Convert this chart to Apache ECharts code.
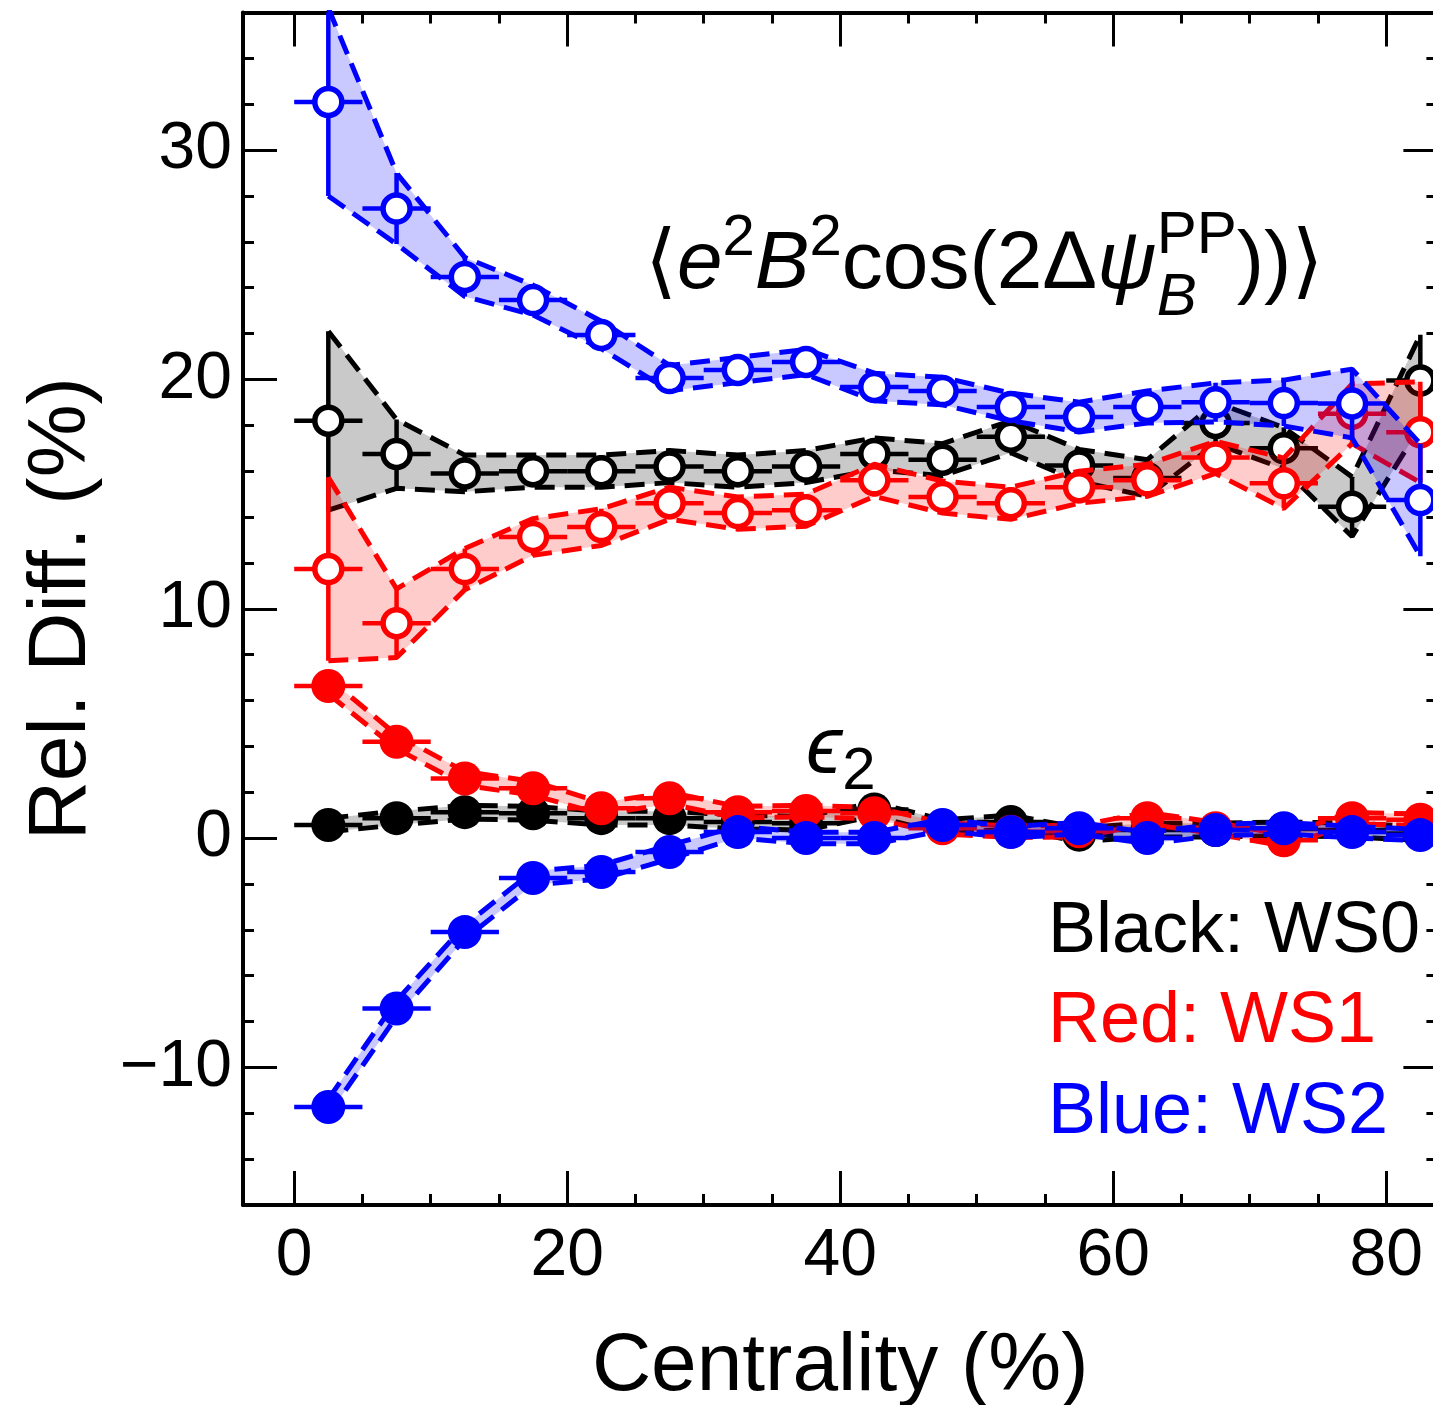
<!DOCTYPE html>
<html>
<head>
<meta charset="utf-8">
<script src="https://cdn.jsdelivr.net/npm/echarts@6/dist/echarts.min.js"></script>
<style>
  html, body { margin: 0; padding: 0; background: #fff; }
  #chart { width: 1433px; height: 1405px; }
</style>
</head>
<body>
<div id="chart"></div>
<script>
// Centrality bin centres (%) and half bin width
const centrality = [2.5, 7.5, 12.5, 17.5, 22.5, 27.5, 32.5, 37.5, 42.5, 47.5, 52.5, 57.5, 62.5, 67.5, 72.5, 77.5, 82.5];
const binHalfWidth = 2.5;

// Relative difference of <e^2 B^2 cos(2 dPsi_B^PP)> for the three Woods-Saxon settings
const corrWS0    = [18.2, 16.75, 15.9, 16.0, 16.0, 16.2, 16.0, 16.2, 16.75, 16.5, 17.5, 16.25, 15.7, 18.1, 17.0, 14.45, 19.95];
const corrWS0Err = [3.9, 1.5, 0.8, 0.7, 0.7, 0.7, 0.7, 0.7, 0.7, 0.7, 0.7, 0.7, 0.8, 0.9, 0.9, 1.3, 2.0];
const corrWS1    = [11.73, 9.37, 11.73, 13.13, 13.56, 14.6, 14.17, 14.3, 15.6, 14.87, 14.6, 15.3, 15.6, 16.6, 15.47, 18.5, 17.7];
const corrWS1Err = [4.0, 1.5, 0.9, 0.8, 0.8, 0.7, 0.7, 0.7, 0.7, 0.7, 0.7, 0.7, 0.7, 0.7, 1.1, 1.3, 2.2];
const corrWS2    = [32.1, 27.45, 24.47, 23.46, 21.94, 20.06, 20.41, 20.76, 19.67, 19.49, 18.8, 18.36, 18.8, 19.0, 18.97, 18.95, 14.74];
const corrWS2Err = [4.1, 1.55, 0.85, 0.65, 0.6, 0.55, 0.55, 0.55, 0.6, 0.6, 0.6, 0.65, 0.7, 0.85, 1.0, 1.5, 2.45];

// Relative difference of the eccentricity epsilon_2
const eccWS0    = [0.57, 0.87, 1.13, 1.08, 0.87, 0.87, 0.7, 0.65, 1.25, 0.5, 0.7, 0.15, 0.35, 0.35, 0.4, 0.35, 0.2];
const eccWS0Err = [0.3, 0.3, 0.3, 0.3, 0.3, 0.3, 0.3, 0.3, 0.3, 0.3, 0.3, 0.3, 0.3, 0.3, 0.3, 0.3, 0.3];
const eccWS1    = [6.63, 4.2, 2.6, 2.17, 1.3, 1.74, 1.13, 1.18, 1.08, 0.43, 0.28, 0.3, 0.87, 0.43, -0.1, 0.87, 0.8];
const eccWS1Err = [0.35, 0.3, 0.3, 0.3, 0.25, 0.25, 0.25, 0.25, 0.25, 0.25, 0.25, 0.25, 0.25, 0.25, 0.25, 0.25, 0.25];
const eccWS2    = [-11.73, -7.43, -4.1, -1.74, -1.48, -0.61, 0.26, 0.0, 0.0, 0.57, 0.26, 0.43, 0.0, 0.35, 0.43, 0.26, 0.13];
const eccWS2Err = [0.35, 0.35, 0.3, 0.3, 0.3, 0.3, 0.25, 0.25, 0.25, 0.25, 0.25, 0.25, 0.25, 0.25, 0.25, 0.25, 0.25];

// Axis ticks
const xMajorTicks = [0, 20, 40, 60, 80];
const xMinorTicks = [5, 10, 15, 25, 30, 35, 45, 50, 55, 65, 70, 75];
const yMajorTicks = [-10, 0, 10, 20, 30];
const yMinorTicks = [-14, -12, -8, -6, -4, -2, 2, 4, 6, 8, 12, 14, 16, 18, 22, 24, 26, 28, 32, 34];

const X_MIN = -3.75, X_MAX = 83.75, Y_MIN = -16, Y_MAX = 36;
const FONT = '"Liberation Sans", "DejaVu Sans", Arial, sans-serif';

const COLORS = {
  black: { line: '#000000', fill: 'rgba(0,0,0,0.21)' },
  red:   { line: '#ff0000', fill: 'rgba(255,0,0,0.2)' },
  blue:  { line: '#0000ff', fill: 'rgba(0,0,255,0.21)' }
};

function clipRect(params) {
  const cs = params.coordSys;
  return { type: 'rect', shape: { x: cs.x, y: cs.y, width: cs.width, height: cs.height } };
}

// Shaded band between value-err and value+err
function bandSeries(vals, errs, color, z) {
  return {
    type: 'custom', xAxisIndex: 0, yAxisIndex: 0, z: z, silent: true,
    data: [[centrality[0], vals[0]]],
    renderItem: function (params, api) {
      const upper = centrality.map((x, i) => api.coord([x, vals[i] + errs[i]]));
      const lower = centrality.map((x, i) => api.coord([x, vals[i] - errs[i]])).reverse();
      return {
        type: 'polygon',
        shape: { points: upper.concat(lower) },
        style: { fill: color.fill },
        clipPath: clipRect(params)
      };
    }
  };
}

// Dashed band edge
function edgeSeries(vals, errs, sign, color, z) {
  return {
    type: 'line', xAxisIndex: 0, yAxisIndex: 0, z: z, silent: true,
    symbol: 'none', showSymbol: false, clip: true,
    data: centrality.map((x, i) => [x, vals[i] + sign * errs[i]]),
    lineStyle: { color: color.line, width: 5, type: [20, 10] }
  };
}

// Horizontal (bin width) and vertical (uncertainty) error bars
function errorBarSeries(vals, errs, color, z) {
  return {
    type: 'custom', xAxisIndex: 0, yAxisIndex: 0, z: z, silent: true,
    data: centrality.map((x, i) => [x, vals[i], errs[i]]),
    renderItem: function (params, api) {
      const x = api.value(0), y = api.value(1), e = api.value(2);
      const l = api.coord([x - binHalfWidth, y]), r = api.coord([x + binHalfWidth, y]);
      const t = api.coord([x, y + e]), b = api.coord([x, y - e]);
      const st = { stroke: color.line, lineWidth: 4.5 };
      return {
        type: 'group',
        clipPath: clipRect(params),
        children: [
          { type: 'line', shape: { x1: l[0], y1: l[1], x2: r[0], y2: r[1] }, style: st },
          { type: 'line', shape: { x1: t[0], y1: t[1], x2: b[0], y2: b[1] }, style: st }
        ]
      };
    }
  };
}

function markerSeries(vals, color, open, z) {
  return {
    type: 'scatter', xAxisIndex: 0, yAxisIndex: 0, z: z, silent: true,
    data: centrality.map((x, i) => [x, vals[i]]),
    symbol: 'circle',
    symbolSize: open ? 27 : 34,
    itemStyle: open
      ? { color: '#ffffff', borderColor: color.line, borderWidth: 5.5, opacity: 1 }
      : { color: color.line, borderWidth: 0, opacity: 1 }
  };
}

const groups = [
  { vals: corrWS0, errs: corrWS0Err, color: COLORS.black, open: true },
  { vals: corrWS1, errs: corrWS1Err, color: COLORS.red,   open: true },
  { vals: corrWS2, errs: corrWS2Err, color: COLORS.blue,  open: true },
  { vals: eccWS0,  errs: eccWS0Err,  color: COLORS.black, open: false },
  { vals: eccWS1,  errs: eccWS1Err,  color: COLORS.red,   open: false },
  { vals: eccWS2,  errs: eccWS2Err,  color: COLORS.blue,  open: false }
];

const series = [];
let zc = 2;
groups.forEach(g => {
  series.push(bandSeries(g.vals, g.errs, g.color, zc++));
  series.push(edgeSeries(g.vals, g.errs, 1, g.color, zc++));
  series.push(edgeSeries(g.vals, g.errs, -1, g.color, zc++));
  series.push(errorBarSeries(g.vals, g.errs, g.color, zc++));
  series.push(markerSeries(g.vals, g.color, g.open, zc++));
});

// Axes: major/minor ticks drawn inward on all four sides
function xAxisCfg(position, ticks, len, extra) {
  return Object.assign({
    type: 'value', gridIndex: 0, position: position, min: X_MIN, max: X_MAX,
    axisLine: { show: false, onZero: false },
    axisTick: { show: true, inside: true, length: len, customValues: ticks, lineStyle: { color: '#000', width: 3 } },
    axisLabel: { show: false },
    splitLine: { show: false }
  }, extra || {});
}
function yAxisCfg(position, ticks, len, extra) {
  return Object.assign({
    type: 'value', gridIndex: 0, position: position, min: Y_MIN, max: Y_MAX,
    axisLine: { show: false, onZero: false },
    axisTick: { show: true, inside: true, length: len, customValues: ticks, lineStyle: { color: '#000', width: 3 } },
    axisLabel: { show: false },
    splitLine: { show: false }
  }, extra || {});
}
const frameLine = { show: true, onZero: false, lineStyle: { color: '#000', width: 4 } };

const xAxes = [
  xAxisCfg('bottom', xMajorTicks, 34, {
    axisLine: frameLine,
    axisLabel: { show: true, customValues: xMajorTicks, fontSize: 66, color: '#000', fontFamily: FONT, margin: 19 },
    name: 'Centrality (%)', nameLocation: 'middle', nameGap: 121,
    nameTextStyle: { fontSize: 82, color: '#000', fontFamily: FONT }
  }),
  xAxisCfg('bottom', xMinorTicks, 11),
  xAxisCfg('top', xMajorTicks, 34, { axisLine: frameLine }),
  xAxisCfg('top', xMinorTicks, 11)
];
const yAxes = [
  yAxisCfg('left', yMajorTicks, 34, {
    axisLine: frameLine,
    axisLabel: {
      show: true, customValues: yMajorTicks, fontSize: 66, color: '#000', fontFamily: FONT, margin: 11,
      formatter: v => String(v).replace('-', '\u2212')
    },
    name: 'Rel. Diff. (%)', nameLocation: 'middle', nameGap: 140, nameRotate: 90,
    nameTextStyle: { fontSize: 82, color: '#000', fontFamily: FONT }
  }),
  yAxisCfg('left', yMinorTicks, 11),
  yAxisCfg('right', yMajorTicks, 34, { axisLine: frameLine }),
  yAxisCfg('right', yMinorTicks, 11)
];

// Text annotations built from runs of differently styled pieces
const measure = document.createElement('canvas').getContext('2d');
function fontStr(size, italic) {
  return (italic ? 'italic ' : '') + size + 'px ' + FONT;
}
function textRun(x0, baseline, pieces, color) {
  const els = [];
  let x = x0;
  pieces.forEach(p => {
    const f = fontStr(p.size, p.italic);
    measure.font = f;
    const w = measure.measureText(p.text).width;
    const yMid = baseline + (p.dy || 0) - 0.3465 * p.size;
    els.push({
      type: 'text', x: x + (p.dx || 0), y: yMid, z: 100, silent: true,
      style: {
        text: p.text, font: f, fill: color,
        align: 'left', verticalAlign: 'middle',
        textAlign: 'left', textVerticalAlign: 'middle'
      }
    });
    if (!p.stack) x += (p.advance != null ? Math.max(p.advance, w) : w) + (p.dx || 0) + (p.gap || 0);
  });
  return els;
}

measure.font = fontStr(60, false);
const ppWidth = measure.measureText('PP').width;

const graphics = [].concat(
  textRun(645, 294, [
    { text: '\u27E8', size: 82 },
    { text: 'e', size: 82, italic: true },
    { text: '2', size: 58, dy: -35 },
    { text: 'B', size: 82, italic: true },
    { text: '2', size: 58, dy: -35 },
    { text: 'cos(2\u0394', size: 82 },
    { text: '\u03C8', size: 82, italic: true },
    { text: 'PP', size: 60, dy: -37, stack: true },
    { text: 'B', size: 60, italic: true, dy: 25, advance: ppWidth },
    { text: '))', size: 82 },
    { text: '\u27E9', size: 82 }
  ], '#000'),
  textRun(806, 779, [
    { text: '\u03F5', size: 82, italic: true },
    { text: '2', size: 60, dy: 14 }
  ], '#000'),
  textRun(1048, 957, [{ text: 'Black: WS0', size: 72 }], '#000'),
  textRun(1048, 1047, [{ text: 'Red: WS1', size: 72 }], '#ff0000'),
  textRun(1048, 1138, [{ text: 'Blue: WS2', size: 72 }], '#0000ff')
);

const chart = echarts.init(document.getElementById('chart'), null, { renderer: 'canvas' });
chart.setOption({
  animation: false,
  backgroundColor: '#ffffff',
  grid: { left: 243, top: 12.5, width: 1194.4, height: 1192.5, containLabel: false, outerBoundsMode: 'none' },
  xAxis: xAxes,
  yAxis: yAxes,
  series: series,
  graphic: graphics
});
</script>
</body>
</html>
